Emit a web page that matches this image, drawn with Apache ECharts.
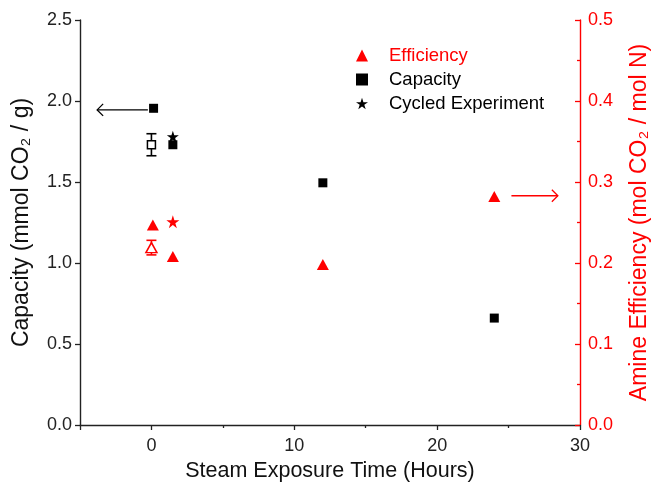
<!DOCTYPE html>
<html>
<head>
<meta charset="utf-8">
<script src="https://cdn.jsdelivr.net/npm/echarts@6/dist/echarts.min.js"></script>
<style>html,body{margin:0;padding:0;background:#fff}#c{width:652px;height:490px}</style>
</head>
<body>
<div id="c"></div>
<script>
// ---- data ----
var xTickLabels = [0, 10, 20, 30];
var leftTicks = [0.0, 0.5, 1.0, 1.5, 2.0, 2.5];
var rightTicks = [0.0, 0.1, 0.2, 0.3, 0.4, 0.5];
// Capacity (mmol CO2/g) : [time h, value]
var capacityData = [[0.15, 1.955], [1.5, 1.73], [12, 1.495], [24, 0.66]];
// Capacity open point with error: [time, value, err]
var capacityErr = [[0, 1.73, 0.068]];
// Amine efficiency (mol CO2/mol N)
var efficiencyData = [[0.1, 0.247], [1.5, 0.208], [12, 0.198], [24, 0.282]];
var efficiencyErr = [[0, 0.219, 0.009]];
// Cycled experiment
var cycledCapacity = [[1.5, 1.78]];
var cycledEfficiency = [[1.5, 0.251]];
// Arrow annotations (data coords): [x0, y0, x1, y1]
var leftArrow = [[-0.25, 1.945, -3.8, 1.945]];
var rightArrow = [[25.2, 0.283, 28.45, 0.283]];

var FONT = 'Liberation Sans, Arial, sans-serif';
var STAR = 'path://M50,0 L61.2,34.5 L97.6,34.5 L68.2,55.9 L79.4,90.5 L50,69.1 L20.6,90.5 L31.8,55.9 L2.4,34.5 L38.8,34.5 Z';

function errRender(color) {
  return function (params, api) {
    var x = api.value(0), y = api.value(1), e = api.value(2);
    var top = api.coord([x, y + e]);
    var bot = api.coord([x, y - e]);
    var hw = 5;
    var st = { stroke: color, lineWidth: 1.6 };
    return {
      type: 'group',
      children: [
        { type: 'line', shape: { x1: top[0], y1: top[1], x2: bot[0], y2: bot[1] }, style: st },
        { type: 'line', shape: { x1: top[0] - hw, y1: top[1], x2: top[0] + hw, y2: top[1] }, style: st },
        { type: 'line', shape: { x1: bot[0] - hw, y1: bot[1], x2: bot[0] + hw, y2: bot[1] }, style: st }
      ]
    };
  };
}
function arrowRender(color) {
  return function (params, api) {
    var p0 = api.coord([api.value(0), api.value(1)]);
    var p1 = api.coord([api.value(2), api.value(3)]);
    var dir = p1[0] > p0[0] ? 1 : -1;
    var st = { stroke: color, lineWidth: 1.3, fill: null };
    return {
      type: 'group',
      children: [
        { type: 'line', shape: { x1: p0[0], y1: p0[1], x2: p1[0], y2: p1[1] }, style: st },
        { type: 'polyline', shape: { points: [[p1[0] - dir * 6, p1[1] - 6], [p1[0], p1[1]], [p1[0] - dir * 6, p1[1] + 6]] }, style: st }
      ]
    };
  };
}

var chart = echarts.init(document.getElementById('c'), null, { renderer: 'canvas' });
var option = {
  animation: false,
  backgroundColor: '#fff',
  textStyle: { fontFamily: FONT },
  grid: { left: 80, right: 72, top: 20, bottom: 65, containLabel: false, outerBoundsMode: 'none' },
  legend: {
    orient: 'vertical',
    left: 351, top: 41,
    itemWidth: 12, itemHeight: 12, itemGap: 5,
    textStyle: { fontFamily: FONT, fontSize: 18.5, color: '#000', padding: [0, 0, 0, 16] },
    data: [
      { name: 'Efficiency', icon: 'triangle', textStyle: { color: '#ff0000' } },
      { name: 'Capacity', icon: 'rect' },
      { name: 'Cycled Experiment', icon: STAR }
    ]
  },
  xAxis: [{
    type: 'value', min: -5, max: 30, interval: 5,
    position: 'bottom',
    name: 'Steam Exposure Time (Hours)', nameLocation: 'middle', nameGap: 34,
    nameTextStyle: { fontFamily: FONT, fontSize: 21.5, color: '#111' },
    axisLine: { onZero: false, lineStyle: { color: '#222', width: 1.4 } },
    axisTick: { customValues: [-5, 0, 10, 20, 30], length: 5, lineStyle: { color: '#222', width: 1.3 } },
    axisLabel: { customValues: xTickLabels, fontSize: 18, color: '#222', margin: 12, fontFamily: FONT },
    splitLine: { show: false }
  }, {
    type: 'value', min: -5, max: 30, interval: 5,
    position: 'bottom',
    axisLine: { show: false, onZero: false },
    axisTick: { customValues: [5, 15, 25], length: 3, lineStyle: { color: '#222', width: 1.3 } },
    axisLabel: { show: false },
    splitLine: { show: false }
  }],
  yAxis: [{
    type: 'value', min: 0, max: 2.5, interval: 0.5, position: 'left',
    name: 'Capacity (mmol CO₂ / g)', nameLocation: 'middle', nameGap: 47,
    nameTextStyle: { fontFamily: FONT, fontSize: 23, color: '#111' },
    axisLine: { show: true, onZero: false, lineStyle: { color: '#222', width: 1.4 } },
    axisTick: { show: true, length: 5, lineStyle: { color: '#222', width: 1.3 } },
    axisLabel: { fontSize: 18, color: '#222', margin: 8, fontFamily: FONT,
      formatter: function (v) { return v.toFixed(1); } },
    splitLine: { show: false }
  }, {
    type: 'value', min: 0, max: 0.5, interval: 0.1, position: 'right',
    name: 'Amine Efficiency (mol CO₂ / mol N)', nameLocation: 'middle', nameGap: 48,
    nameRotate: 90,
    nameTextStyle: { fontFamily: FONT, fontSize: 23, color: '#ff0000' },
    axisLine: { show: true, onZero: false, lineStyle: { color: '#ff0000', width: 1.4 } },
    axisTick: { show: true, inside: true, length: 5, lineStyle: { color: '#ff0000', width: 1.3 } },
    minorTick: { show: true, splitNumber: 2, length: 3, lineStyle: { color: '#ff0000', width: 1.3 } },
    axisLabel: { fontSize: 18, color: '#ff0000', margin: 8, fontFamily: FONT,
      formatter: function (v) { return v.toFixed(1); } },
    splitLine: { show: false }
  }],
  series: [
    { type: 'custom', name: 'capErr', xAxisIndex: 0, yAxisIndex: 0, data: capacityErr, renderItem: errRender('#000'), z: 2 },
    { type: 'custom', name: 'effErr', xAxisIndex: 0, yAxisIndex: 1, data: efficiencyErr, renderItem: errRender('#ff0000'), z: 2 },
    { type: 'scatter', name: 'capOpen', xAxisIndex: 0, yAxisIndex: 0, data: capacityErr.map(function (d) { return [d[0], d[1]]; }),
      symbol: 'rect', symbolSize: 8, itemStyle: { color: '#fff', borderColor: '#000', borderWidth: 1.5, opacity: 1 }, z: 3 },
    { type: 'scatter', name: 'effOpen', xAxisIndex: 0, yAxisIndex: 1, data: efficiencyErr.map(function (d) { return [d[0], d[1]]; }),
      symbol: 'triangle', symbolSize: [11, 10], itemStyle: { color: '#fff', borderColor: '#ff0000', borderWidth: 1.5, opacity: 1 }, z: 3 },
    { type: 'scatter', name: 'Efficiency', xAxisIndex: 0, yAxisIndex: 1, data: efficiencyData,
      symbol: 'triangle', symbolSize: [12, 11], itemStyle: { color: '#ff0000', opacity: 1 }, z: 4 },
    { type: 'scatter', name: 'Capacity', xAxisIndex: 0, yAxisIndex: 0, data: capacityData,
      symbol: 'rect', symbolSize: 9, itemStyle: { color: '#000', opacity: 1 }, z: 4 },
    { type: 'scatter', name: 'Cycled Experiment', xAxisIndex: 0, yAxisIndex: 0, data: cycledCapacity,
      symbol: STAR, symbolSize: 12, itemStyle: { color: '#000', opacity: 1 }, z: 5 },
    { type: 'scatter', name: 'cycledEff', xAxisIndex: 0, yAxisIndex: 1, data: cycledEfficiency,
      symbol: STAR, symbolSize: 13, itemStyle: { color: '#ff0000', opacity: 1 }, z: 5 },
    { type: 'custom', name: 'arrowL', xAxisIndex: 0, yAxisIndex: 0, data: leftArrow, renderItem: arrowRender('#000'), z: 3 },
    { type: 'custom', name: 'arrowR', xAxisIndex: 0, yAxisIndex: 1, data: rightArrow, renderItem: arrowRender('#ff0000'), z: 3 }
  ]
};
chart.setOption(option);
</script>
</body>
</html>
